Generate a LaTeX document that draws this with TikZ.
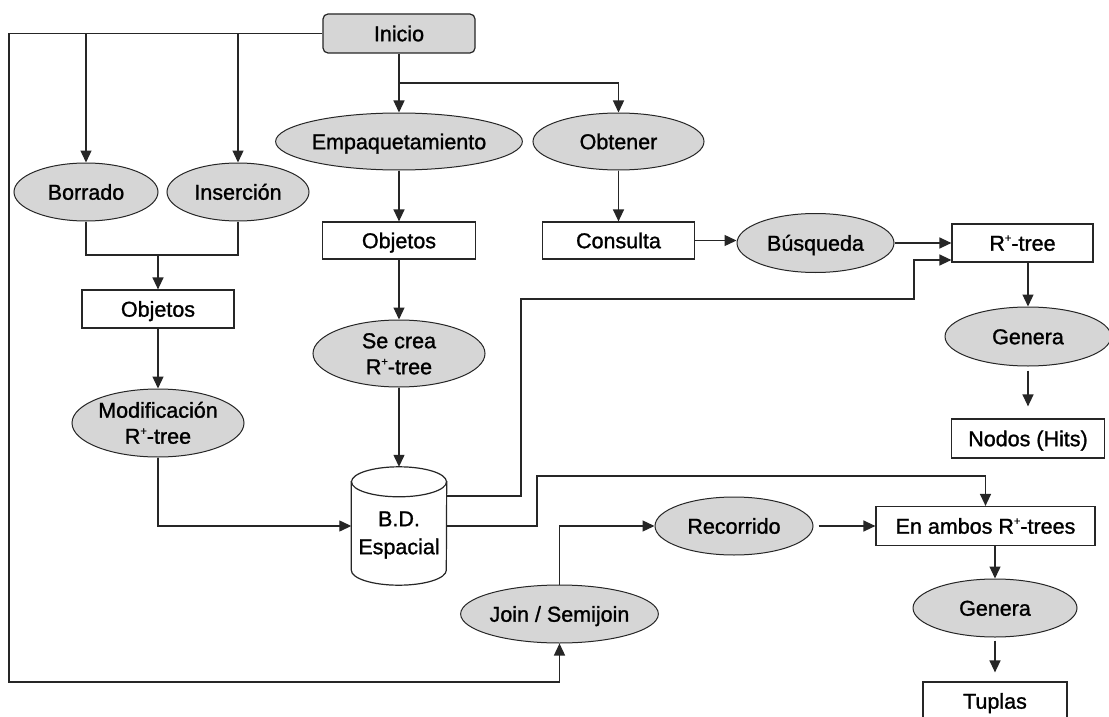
\documentclass[tikz,border=0pt]{standalone}
\usepackage{fontspec}
\setmainfont{Liberation Sans}[UprightFeatures={FakeBold=1.2}]
\usetikzlibrary{shapes.geometric,arrows.meta,calc}
\definecolor{nodefill}{HTML}{D6D6D6}
\definecolor{linecol}{HTML}{262626}
% R with a small raised plus sign
\newcommand\Rplus{R\raisebox{0.42em}{\fontsize{11}{11}\selectfont +}}
\begin{document}
\begin{tikzpicture}[x=1pt,y=-1pt,
  font=\fontsize{21.5}{26}\selectfont,
  conn/.style={draw=linecol, line width=1.3pt},
  arr/.style={conn, -{Triangle[length=12pt,width=11pt]}},
  ovalbase/.style={ellipse, draw=linecol, line width=1pt, fill=nodefill, inner sep=0pt},
  oval/.style={ovalbase, text height=15.4pt, text depth=0pt},
  oval2/.style={ovalbase, align=center, text height=41.4pt, text depth=0pt},
  box/.style={rectangle, draw=linecol, line width=1.2pt, fill=white, inner sep=0pt, text height=15.4pt, text depth=0pt},
  startbox/.style={rectangle, rounded corners=5pt, draw=linecol, line width=1.2pt, fill=nodefill, inner sep=0pt, text height=15.4pt, text depth=0pt}
]
\clip (0,0) rectangle (1109,717);
\fill[white] (0,0) rectangle (1109,717);

% start
\node[startbox, minimum width=152, minimum height=39] (inicio) at (399,33.5) {Inicio};

% update branch
\node[oval, minimum width=144, minimum height=58] (borrado) at (86,192) {Borrado};
\node[oval, minimum width=142, minimum height=58] (insercion) at (238,192) {Inserción};
\node[box, minimum width=152, minimum height=38] (obj1) at (158,309) {Objetos};
\node[oval2, minimum width=172, minimum height=68] (modif) at (158,423) {Modificación\\\Rplus-tree};

% bulk loading branch
\node[oval, minimum width=210, minimum height=57] (empaq) at (399,141.5) {Empaquetamiento};
\node[box, minimum width=153, minimum height=37] (obj2) at (399,240.5) {Objetos};
\node[oval2, minimum width=172, minimum height=67] (secrea) at (399,353.5) {Se crea\\\Rplus-tree};

% spatial database (cylinder drawn around an empty node)
\node[minimum width=95, minimum height=118, inner sep=0pt] (db) at (399,526) {};
\path[draw=linecol, line width=1.2pt, fill=white]
  ($(db.north west)+(0,15)$) -- ($(db.south west)+(0,-15)$)
  arc[start angle=180, end angle=360, x radius=47.5pt, y radius=15pt]
  -- ($(db.north east)+(0,15)$) -- cycle;
\draw[draw=linecol, line width=1.2pt, fill=white] ($(db.north)+(0,15)$) ellipse[x radius=47.5pt, y radius=15pt];
\node[align=center, font=\fontsize{21.5}{28}\selectfont, text height=43.4pt, text depth=0pt, inner sep=0pt] (dbtext) at (399,532.5) {B.D.\\Espacial};

% query branch
\node[oval, minimum width=171, minimum height=57] (obtener) at (618.5,141.5) {Obtener};
\node[box, minimum width=152, minimum height=37] (consulta) at (618.5,240.5) {Consulta};
\node[oval, minimum width=157, minimum height=59] (busqueda) at (815.5,243) {Búsqueda};
\node[box, minimum width=141, minimum height=38] (rtree) at (1022.5,243) {\Rplus-tree};
\node[oval, minimum width=166, minimum height=59] (genera1) at (1028,336.5) {Genera};
\node[box, minimum width=153, minimum height=39] (nodos) at (1028,438.5) {Nodos (Hits)};

% join branch
\node[oval, minimum width=173, minimum height=58] (join) at (559.5,614) {Join / Semijoin};
\node[oval, minimum width=158, minimum height=58] (recorrido) at (734,526) {Recorrido};
\node[box, minimum width=219, minimum height=39] (enambos) at (985.5,526) {En ambos \Rplus-trees};
\node[oval, minimum width=164, minimum height=58] (genera2) at (995,608) {Genera};
\node[box, minimum width=144, minimum height=38] (tuplas) at (995,701) {Tuplas};

% routing points
\coordinate (loopc) at (9,682);
\coordinate (merge) at (158,255);
\coordinate (split) at (399,83);
\coordinate (upA) at (521,299);
\coordinate (rin) at (914,260);
\coordinate (upB) at (537,476);
\coordinate (dbhi) at ($(db.east)+(0,-30)$);

% connectors
\draw[arr] (inicio.west) -| (loopc) -| (join.south);
\draw[arr] (inicio.west -| borrado.north) -- (borrado.north);
\draw[arr] (inicio.west -| insercion.north) -- (insercion.north);
\draw[conn] (borrado.south) |- (merge) -| (insercion.south);
\draw[arr] (merge) -- (obj1.north);
\draw[arr] (obj1) -- (modif);
\draw[arr] (modif.south) |- (db.west);

\draw[arr] (inicio) -- (empaq);
\draw[arr] (split) -| (obtener.north);
\draw[arr] (empaq) -- (obj2);
\draw[arr] (obj2) -- (secrea);
\draw[arr] (secrea) -- (db.north);

\draw[arr] (dbhi) -| (upA) -| (rin) -- (rin -| rtree.west);
\draw[arr] (db.east) -| (upB) -| (enambos.north);

\draw[arr] (obtener) -- (consulta);
\draw[arr] (consulta.east) -- (consulta.east -| busqueda.west);
\draw[arr] (busqueda.east) -- (busqueda.east -| rtree.west);
\draw[arr] (rtree.south -| genera1.north) -- (genera1.north);
\draw[arr, shorten <=4pt, shorten >=12pt] (genera1) -- (nodos);

\draw[arr] (join.north) |- (recorrido.west);
\draw[arr, shorten <=5pt] (recorrido.east) -- (enambos.west);
\draw[arr] (enambos.south -| genera2.north) -- (genera2.north);
\draw[arr, shorten <=3pt, shorten >=9pt] (genera2) -- (tuplas);
\end{tikzpicture}
\end{document}
